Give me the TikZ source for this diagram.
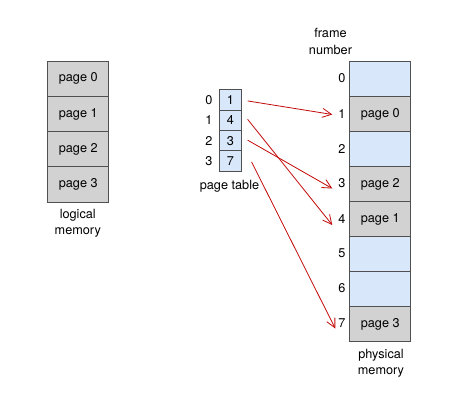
\documentclass[tikz,border=0pt]{standalone}
\usepackage{fontspec}
\setmainfont{TeX Gyre Heros}
\usetikzlibrary{arrows.meta}
\definecolor{cellgray}{RGB}{210,210,210}
\definecolor{cellblue}{RGB}{216,232,250}
\definecolor{edgegray}{RGB}{80,80,80}
\definecolor{arrowred}{RGB}{195,10,10}
\begin{document}
\begin{tikzpicture}[x=1pt,y=-1pt,
  txt/.style={font=\fontsize{12.7}{16.5}\selectfont,inner sep=0pt},
  bigcell/.style={txt,draw=edgegray,line width=0.9pt,minimum width=61pt,minimum height=35.2pt,anchor=north west},
  used/.style={bigcell,fill=cellgray},
  free/.style={bigcell,fill=cellblue},
  ptcell/.style={txt,draw=edgegray,line width=0.9pt,fill=cellblue,minimum width=21.7pt,minimum height=20.35pt,anchor=north west},
  idx/.style={txt},
  maparrow/.style={draw=arrowred,line width=0.8pt,-{Straight Barb[length=9pt,width=9pt,line width=0.8pt]}}
]
\useasboundingbox (0,0) rectangle (451,407);
% logical memory
\node[used] (l0) at (47.3,60.7) {page 0};
\node[used] (l1) at (47.3,95.9) {page 1};
\node[used] (l2) at (47.3,131.1) {page 2};
\node[used] (l3) at (47.3,166.3) {page 3};
\node[txt,align=center] (llab) at (77.8,223.5) {logical\\memory};
% page table
\node[ptcell] (p0) at (219,89.3) {1};
\node[ptcell] (p1) at (219,109.65) {4};
\node[ptcell] (p2) at (219,130) {3};
\node[ptcell] (p3) at (219,150.35) {7};
\node[idx] (i0) at (209,100) {0};
\node[idx] (i1) at (209,120.3) {1};
\node[idx] (i2) at (209,140.6) {2};
\node[idx] (i3) at (209,161) {3};
\node[txt] (plab) at (229.5,186) {page table};
% physical memory
\node[free] (m0) at (349.3,61) {};
\node[used] (m1) at (349.3,96) {page 0};
\node[free] (m2) at (349.3,131) {};
\node[used] (m3) at (349.3,166) {page 2};
\node[used] (m4) at (349.3,201) {page 1};
\node[free] (m5) at (349.3,236) {};
\node[free] (m6) at (349.3,271) {};
\node[used] (m7) at (349.3,306) {page 3};
\foreach \i in {0,...,7} {
  \node[idx] (f\i) at (342,{78.5+35*\i}) {\i};
}
\node[txt,align=center] (flab) at (330.5,41.5) {frame\\number};
\node[txt,align=center] (mlab) at (381,363.5) {physical\\memory};
% arrows
\draw[maparrow] ([xshift=6pt,yshift=-1pt]p0.east) -- ([xshift=-6pt,yshift=-1pt]f1.west);
\draw[maparrow] ([xshift=6pt,yshift=1pt]p1.east) -- ([xshift=-6pt,yshift=-6.5pt]f4.west);
\draw[maparrow] ([xshift=6pt,yshift=0.5pt]p2.east) -- ([xshift=-6pt,yshift=-5pt]f3.west);
\draw[maparrow] ([xshift=10pt,yshift=-1pt]p3.east) -- ([xshift=-3pt,yshift=-5pt]f7.west);
\end{tikzpicture}
\end{document}
